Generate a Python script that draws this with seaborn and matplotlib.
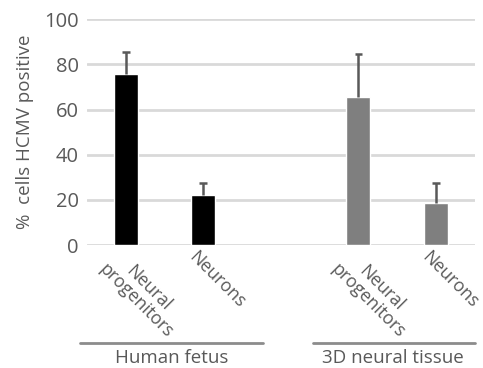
import pandas as pd
import seaborn as sns
import matplotlib.pyplot as plt
import matplotlib.transforms as mtransforms

# data
slots = [0, 1, 3, 4]
groups = ['Human fetus', 'Human fetus', '3D neural tissue', '3D neural tissue']
values = [75.5, 22, 65.5, 18.5]
errors = [10, 5.5, 19, 9]
tick_labels = ['Neural\nprogenitors', 'Neurons', '', 'Neural\nprogenitors', 'Neurons']
group_names = ['Human fetus', '3D neural tissue']
group_colors = ['#000000', '#7f7f7f']

df = pd.DataFrame({'slot': slots, 'group': groups, 'value': values})

sns.set_style('white')
plt.rcParams['font.family'] = ['Open Sans', 'DejaVu Sans']
text_color = '#595959'

fig = plt.figure(figsize=(4.83, 3.68), dpi=100)
ax = fig.add_axes([0.180, 0.334, 0.803, 0.614])

sns.barplot(data=df, x='slot', y='value', hue='group', order=[0, 1, 2, 3, 4],
            hue_order=group_names, palette=group_colors, dodge=False,
            width=0.31, errorbar=None, legend=False, ax=ax)

# upward-only error bars (no cap at the bar top)
tops = [v + e for v, e in zip(values, errors)]
ax.vlines(slots, values, tops, color=text_color, linewidth=1.8, zorder=3)
ax.hlines(tops, [s - 0.05 for s in slots], [s + 0.05 for s in slots],
          color=text_color, linewidth=1.8, zorder=3)

ax.set_ylim(0, 100)
ax.set_xlim(-0.5, 4.5)
ax.set_yticks(range(0, 101, 20))
ax.yaxis.grid(True, color='#d9d9d9', linewidth=2)
ax.set_axisbelow(True)
for s in ax.spines.values():
    s.set_visible(False)
ax.tick_params(axis='both', length=0, colors=text_color)
ax.tick_params(axis='y', pad=6, labelsize=14.5)

ax.set_xticks(range(5))
ax.set_xticklabels(tick_labels, rotation=-45, ha='left', va='top',
                   rotation_mode='anchor', multialignment='center', fontsize=12.8,
                   linespacing=1.0)
offset = mtransforms.ScaledTranslation(-5 / 100, 2 / 100, fig.dpi_scale_trans)
for lbl in ax.get_xticklabels():
    lbl.set_transform(lbl.get_transform() + offset)

ax.set_xlabel('')
ax.set_ylabel('%  cells HCMV positive', fontsize=13.5, color=text_color, labelpad=7)

# group brackets below the tick labels
fig.add_artist(plt.Line2D([80 / 483, 263 / 483], [1 - 343 / 368] * 2,
                          color='#8c8c8c', linewidth=2))
fig.add_artist(plt.Line2D([313 / 483, 475 / 483], [1 - 343 / 368] * 2,
                          color='#8c8c8c', linewidth=2))
fig.text(172 / 483, 1 - 358 / 368, group_names[0], ha='center', va='center',
         fontsize=13.5, color=text_color)
fig.text(393 / 483, 1 - 358 / 368, group_names[1], ha='center', va='center',
         fontsize=13.5, color=text_color)

plt.savefig('out.png', dpi=100)
